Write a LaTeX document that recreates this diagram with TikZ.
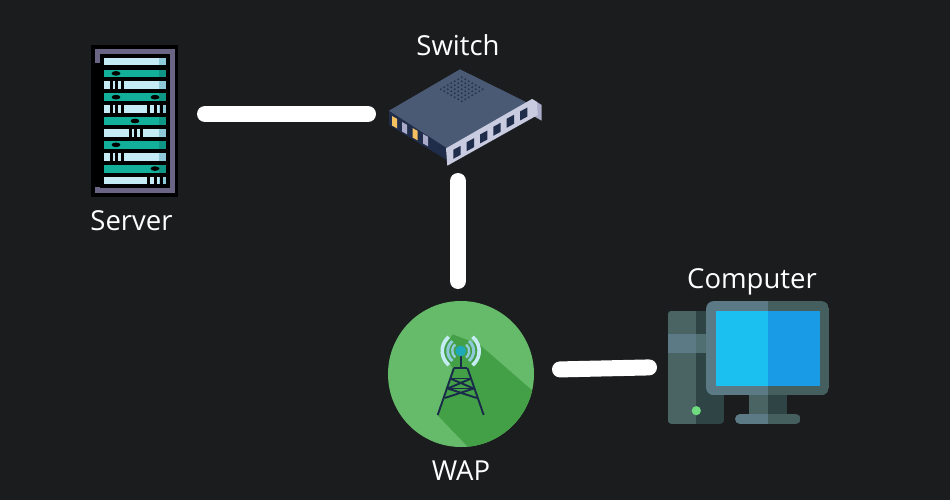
\documentclass[tikz,border=0pt]{standalone}
\usepackage{fontspec}
\setmainfont{Open Sans}
\definecolor{bgdark}{HTML}{1B1C1E}
\definecolor{rackframe}{HTML}{6B6585}
\definecolor{racklight}{HTML}{C5ECF5}
\definecolor{rackshade}{HTML}{8FCADB}
\definecolor{rackgreen}{HTML}{12B09A}
\definecolor{rackgreend}{HTML}{0F9685}
\definecolor{swtop}{HTML}{4A5A75}
\definecolor{swside}{HTML}{1F2C4A}
\definecolor{swdot}{HTML}{2A3650}
\definecolor{swplate}{HTML}{C9CBE0}
\definecolor{swplated}{HTML}{A9ABC8}
\definecolor{swamber}{HTML}{F5C060}
\definecolor{wapgreen}{HTML}{66BB6A}
\definecolor{wapshadow}{HTML}{43A047}
\definecolor{wapnavy}{HTML}{1A2A4A}
\definecolor{wapball}{HTML}{1FA8B8}
\definecolor{pclight}{HTML}{5B7A85}
\definecolor{pcmid}{HTML}{4A6464}
\definecolor{pcdark}{HTML}{2F4545}
\definecolor{pcmon}{HTML}{455F5F}
\definecolor{pcband}{HTML}{4F6F72}
\definecolor{pcled}{HTML}{6FDC7F}
\definecolor{pcscreen}{HTML}{1CC0F0}
\definecolor{pcscreend}{HTML}{1A9BE6}
\tikzset{lbl/.style={text=white, inner sep=0pt, anchor=base, font=\fontsize{27.5}{30}\selectfont}}
\tikzset{dev/.style={inner sep=0pt, outer sep=0pt, minimum width=#1}}
\tikzset{wire/.style={draw=white, line width=16pt, line cap=round}}
\tikzset{mast/.style={draw=wapnavy, line width=1.9pt}}
\newcommand{\splitbox}[8]{\begin{scope}
		\clip[rounded corners=#6] (#1,#2) rectangle (#3,#4);
		\fill[#7] (#1,#2) rectangle (#5,#4);
		\fill[#8] (#5,#2) rectangle (#3,#4);
	\end{scope}}
\begin{document}
\begin{tikzpicture}[x=1pt, y=-1pt]
	\useasboundingbox[fill=bgdark] (0,0) rectangle (950,500);
	% devices, sized so that the wires stop at the gaps
	\node[dev=140pt, minimum height=140pt] (server) at (135,114) {};
	\node[dev=180pt, minimum height=134pt] (switch) at (458,114) {};
	\node[dev=146pt, minimum height=146pt, circle, fill=wapgreen] (wap) at (461,374) {};
	\node[dev=146pt, minimum height=110pt] (computer) at (741,368) {};
	% rack
	\fill[black] (91,45) rectangle (178,197);
	\fill[rackframe] (95,49) rectangle (175,193);
	\fill[black] (100,54) rectangle (170,188);
	\fill[black] (95,63) rectangle (100,187);
	\foreach \i in {0,2,...,10}{
		\fill[racklight] (104,57.7+11.9*\i) rectangle (159,65.4+11.9*\i);
		\fill[rackshade] (159,57.7+11.9*\i) rectangle (166,65.4+11.9*\i);
	}
	\foreach \i in {1,3,...,9}{
		\fill[rackgreen] (104,57.7+11.9*\i) rectangle (159,65.4+11.9*\i);
		\fill[rackgreend] (159,57.7+11.9*\i) rectangle (166,65.4+11.9*\i);
	}
	\foreach \i/\x in {1/116,3/116,3/155,5/135,7/116,9/155}
		\fill[black] (\x,61.5+11.9*\i) ellipse (4.4 and 2.3);
	\foreach \i/\x in {2/111,2/116.5,2/122.7,4/111,4/116.5,4/122.7,4/148.7,4/155,4/161,6/130,6/135.5,6/141.3,8/111,8/116.5,8/122.7,10/148.7,10/155,10/161}
		\draw[black, line width=3pt] (\x,57.7+11.9*\i) -- (\x,65.4+11.9*\i);
	% switch
	\fill[swside] (389,110.7) -- (446.7,148) -- (446.7,160) -- (389,125) -- cycle;
	\fill[swtop] (460,69.3) -- (528,103) -- (446.7,148) -- (389,110.7) -- cycle;
	\foreach \i in {0,...,6}
		\foreach \j in {0,...,6}
			\fill[swdot] (461.7+3.5*\i-3.5*\j,77.3+2*\i+2*\j) circle (1.1);
	\foreach \x/\y/\c in {392/116/swamber,402/122/swplated,412.5/128/swamber,423/134/swplated}
		\fill[\c] (\x,\y) -- (\x+5,\y+2.8) -- (\x+5,\y+12.3) -- (\x,\y+9.5) -- cycle;
	\fill[swplated] (532,99) -- (541.7,105) -- (541.7,120.7) -- (530,114) -- cycle;
	\fill[swplate] (446,148.3) -- (532,99) -- (537,102) -- (537.7,115) -- (447.3,165.7) -- cycle;
	\foreach \x/\y in {457/152.3,470.3/144.7,483.7/137,497/129.3,510.3/121.3,523.7/114}
		\fill[swside] (\x-3.7,\y-2.5) -- (\x+3.7,\y-6.5) -- (\x+3.7,\y+2.5) -- (\x-3.7,\y+6.5) -- cycle;
	% tower
	\begin{scope}
		\clip (wap.center) circle (73);
		\fill[wapshadow] (452.7,334.3) -- (480,345) -- (534,392) -- (534,450) -- (468,447) -- (437.3,415) -- (452.7,368) -- (441.7,351) -- cycle;
	\end{scope}
	\foreach \s in {-1,1}{
		\draw[mast] (460.7+\s*6.7,368) -- (460.7+\s*23,415);
		\draw[mast] (460.7-\s*10.5,378.5) -- (460.7+\s*13,388.5);
		\draw[mast] (460.7-\s*13,388.5) -- (460.7+\s*16,398);
	}
	\draw[mast] (454,368) -- (467.4,368);
	\draw[mast] (450.2,378.5) -- (471.2,378.5);
	\draw[mast] (447.7,388.5) -- (473.7,388.5);
	\draw[mast] (460.7,351) -- (460.7,368);
	\foreach \r/\c/\w in {18.5/racklight/3.6,13/rackshade/3,8.5/rackshade/2.4}{
		\draw[\c, line width=\w pt] (460.7,351) ++(130:\r) arc[start angle=130, end angle=230, radius=\r];
		\draw[\c, line width=\w pt] (460.7,351) ++(-50:\r) arc[start angle=-50, end angle=50, radius=\r];
	}
	\fill[wapball] (460.7,351) circle (5.4);
	% computer
	\splitbox{667.7}{310.7}{724}{424}{696}{4pt}{pcmid}{pcdark}
	\fill[pclight] (667.7,334) rectangle (696,353.3);
	\fill[pcband] (696,334) rectangle (724,353.3);
	\fill[pcled] (696.3,410.7) circle (4.6);
	\fill[pcmid] (749,395) rectangle (767.7,414);
	\fill[pcdark] (767.7,395) rectangle (786.7,414);
	\splitbox{735}{414}{800.7}{424}{767.7}{5pt}{pclight}{pcmon}
	\splitbox{706}{301}{829}{395.3}{767.7}{8pt}{pclight}{pcmon}
	\fill[pcscreen] (716,311) rectangle (767.7,386);
	\fill[pcscreend] (767.7,311) rectangle (820,386);
	% wires
	\draw[wire] (server.east) -- (switch.west);
	\draw[wire, shorten >=20pt] (switch.south) -- (switch.south |- wap.north);
	\draw[wire, shorten <=26pt, shorten >=19pt] ([yshift=4pt]wap.east) -- ([yshift=1pt]computer.west);
	% labels
	\node[lbl] (serverlbl) at (131.5,230) {Server};
	\node[lbl] (switchlbl) at (458,56) {Switch};
	\node[lbl] (waplbl) at (461,480) {WAP};
	\node[lbl] (computerlbl) at (752,288) {Computer};
\end{tikzpicture}
\end{document}
